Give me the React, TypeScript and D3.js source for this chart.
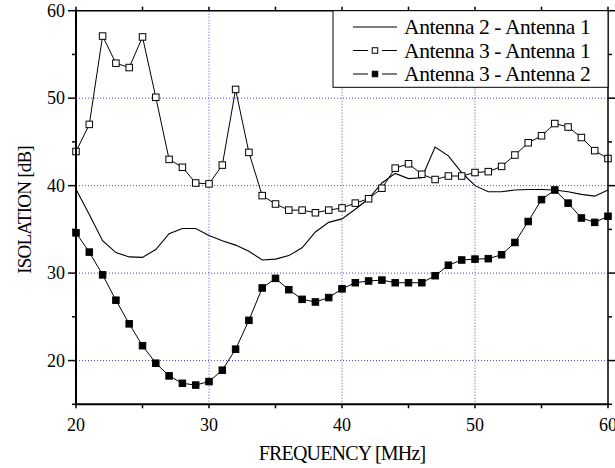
import React from "react";
import * as d3 from "d3";

const freqs = d3.range(20, 61, 1);

const ant21: number[] = [
  39.6, 36.7, 33.7, 32.35, 31.85, 31.8, 32.7, 34.5, 35.1, 35.1,
  34.3, 33.7, 33.2, 32.5, 31.5, 31.6, 32.0, 32.9, 34.7, 35.8,
  36.2, 37.3, 38.5, 40.3, 41.4, 40.8, 40.9, 44.4, 43.4, 41.5,
  40.0, 39.3, 39.3, 39.5, 39.55, 39.55, 39.5, 39.3, 39.0, 38.8, 39.5,
];

const ant31: number[] = [
  43.9, 47.0, 57.1, 54.0, 53.5, 57.0, 50.1, 43.0, 42.1, 40.3,
  40.2, 42.35, 51.0, 43.8, 38.86, 37.9, 37.2, 37.2, 36.9, 37.2,
  37.45, 38.0, 38.5, 39.7, 42.0, 42.5, 41.3, 40.7, 41.1, 41.1,
  41.5, 41.6, 42.2, 43.5, 44.9, 45.7, 47.1, 46.7, 45.5, 44.0, 43.1,
];

const ant32: number[] = [
  34.6, 32.4, 29.8, 26.9, 24.2, 21.7, 19.7, 18.25, 17.4, 17.2,
  17.6, 18.9, 21.3, 24.6, 28.3, 29.4, 28.1, 27.0, 26.7, 27.2,
  28.2, 28.9, 29.1, 29.2, 28.9, 28.9, 28.9, 29.7, 30.9, 31.5,
  31.6, 31.65, 32.1, 33.5, 35.9, 38.4, 39.5, 38.0, 36.3, 35.8, 36.5,
];

const xMajor = [20, 30, 40, 50, 60];
const xMinor = [25, 35, 45, 55];
const yMajor = [20, 30, 40, 50, 60];
const yMinor = [15, 25, 35, 45, 55];
const gridX = [30, 40, 50];
const gridY = [20, 30, 40, 50];

const legendLabels = ["Antenna 2 - Antenna 1", "Antenna 3 - Antenna 1", "Antenna 3 - Antenna 2"];

const W = 615;
const H = 468;
const L = 76, R = 608, T = 10.7, B = 404.3;
const FONT = "'Liberation Serif', 'Times New Roman', Times, serif";

export default function App() {
  const x = d3.scaleLinear().domain([20, 60]).range([L, R]);
  const y = d3.scaleLinear().domain([15, 60]).range([B, T]);
  const line = d3
    .line<[number, number]>()
    .x((d) => x(d[0]))
    .y((d) => y(d[1]));
  const pts = (arr: number[]) => freqs.map((f, i) => [f, arr[i]] as [number, number]);
  const ms = 6.5;

  return (
    <div style={{ position: "fixed", left: 0, top: 0 }}>
      <svg width={W} height={H} style={{ display: "block", background: "#fff" }} fontFamily={FONT}>
        <rect width={W} height={H} fill="#fff" />
        {gridX.map((v) => (
          <line key={"gx" + v} x1={x(v)} x2={x(v)} y1={T} y2={B} stroke="#4b4bd0" strokeWidth={1} strokeDasharray="1,2" />
        ))}
        {gridY.map((v) => (
          <line key={"gy" + v} x1={L} x2={R} y1={y(v)} y2={y(v)} stroke="#4b4bd0" strokeWidth={1} strokeDasharray="1,2" />
        ))}

        <path d={line(pts(ant21)) || ""} fill="none" stroke="#000" strokeWidth={1.1} />
        <path d={line(pts(ant31)) || ""} fill="none" stroke="#000" strokeWidth={1} />
        <path d={line(pts(ant32)) || ""} fill="none" stroke="#000" strokeWidth={1} />
        {pts(ant31).map((d, i) => (
          <rect key={"o" + i} x={x(d[0]) - ms / 2} y={y(d[1]) - ms / 2} width={ms} height={ms} fill="#fff" stroke="#000" strokeWidth={1} />
        ))}
        {pts(ant32).map((d, i) => (
          <rect key={"f" + i} x={x(d[0]) - ms / 2} y={y(d[1]) - ms / 2} width={ms} height={ms} fill="#000" stroke="#000" strokeWidth={1} />
        ))}

        <line x1={L} x2={R} y1={T} y2={T} stroke="#000" strokeWidth={1.5} />
        <line x1={R} x2={R} y1={T} y2={B} stroke="#000" strokeWidth={1.5} />
        <line x1={L} x2={L} y1={T - 1} y2={B + 1} stroke="#000" strokeWidth={2} />
        <line x1={L - 1} x2={R + 1} y1={B} y2={B} stroke="#000" strokeWidth={2} />

        {xMajor.map((v) => (
          <g key={"xt" + v}>
            <line x1={x(v)} x2={x(v)} y1={B} y2={B + 4} stroke="#000" strokeWidth={1.5} />
            <line x1={x(v)} x2={x(v)} y1={T} y2={T - 4} stroke="#000" strokeWidth={1.5} />
            <text x={x(v)} y={B + 27} textAnchor="middle" fontSize={18}>{v}</text>
          </g>
        ))}
        {xMinor.map((v) => (
          <g key={"xm" + v}>
            <line x1={x(v)} x2={x(v)} y1={B} y2={B + 4} stroke="#000" strokeWidth={1.5} />
            <line x1={x(v)} x2={x(v)} y1={T} y2={T - 4} stroke="#000" strokeWidth={1.5} />
          </g>
        ))}
        {yMajor.map((v) => (
          <g key={"yt" + v}>
            <line x1={L} x2={L - 8} y1={y(v)} y2={y(v)} stroke="#000" strokeWidth={1.5} />
            <line x1={R} x2={R + 8} y1={y(v)} y2={y(v)} stroke="#000" strokeWidth={1.5} />
            <text x={L - 11} y={y(v) + 6} textAnchor="end" fontSize={18}>{v}</text>
          </g>
        ))}
        {yMinor.map((v) => (
          <g key={"ym" + v}>
            <line x1={L} x2={L - 4} y1={y(v)} y2={y(v)} stroke="#000" strokeWidth={1.5} />
            <line x1={R} x2={R + 4} y1={y(v)} y2={y(v)} stroke="#000" strokeWidth={1.5} />
          </g>
        ))}

        <text x={342} y={460} textAnchor="middle" fontSize={20} letterSpacing={-0.8}>FREQUENCY [MHz]</text>
        <text transform={`translate(31, 210) rotate(-90)`} textAnchor="middle" fontSize={19} letterSpacing={-0.8}>ISOLATION [dB]</text>

        <rect x={333} y={T} width={R - 333} height={87.3 - T} fill="#fff" stroke="#000" strokeWidth={1} />
        {legendLabels.map((lab, i) => {
          const cy = 27 + i * 23.5;
          return (
            <g key={"lg" + i}>
              {i === 0 ? (
                <line x1={353} x2={397} y1={cy} y2={cy} stroke="#000" strokeWidth={1.1} />
              ) : (
                <>
                  <line x1={353} x2={368} y1={cy} y2={cy} stroke="#000" strokeWidth={1} />
                  <line x1={382} x2={397} y1={cy} y2={cy} stroke="#000" strokeWidth={1} />
                  <rect x={375 - ms / 2 + 0.5} y={cy - ms / 2 + 0.5} width={ms - 1} height={ms - 1} fill={i === 1 ? "#fff" : "#000"} stroke="#000" strokeWidth={1} />
                </>
              )}
              <text x={404} y={cy + 7} fontSize={21.5} letterSpacing={-0.4}>{lab}</text>
            </g>
          );
        })}
      </svg>
    </div>
  );
}
